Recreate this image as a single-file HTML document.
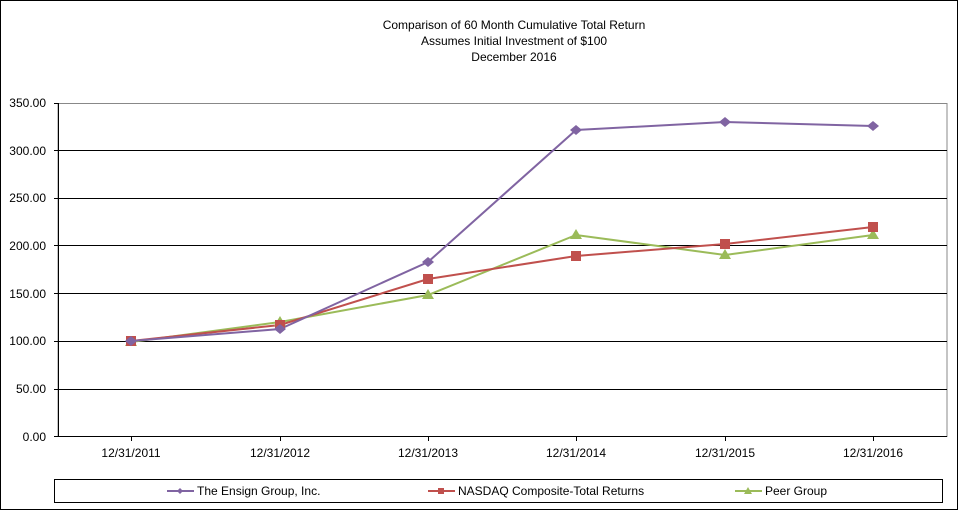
<!DOCTYPE html>
<html><head><style>
body{margin:0;background:#fff;}
svg text{font-family:"Liberation Sans",Arial,sans-serif;font-size:12px;fill:#000;}
</style></head><body>
<svg width="961" height="519" viewBox="0 0 961 519">
<rect x="0.5" y="0.5" width="957" height="509" fill="#fff" stroke="#000" stroke-width="1"/>
<text x="514" y="29" text-anchor="middle">Comparison  of 60 Month Cumulative Total Return</text>
<text x="514" y="45" text-anchor="middle">Assumes Initial Investment  of $100</text>
<text x="514" y="61" text-anchor="middle">December  2016</text>
<rect x="58" y="103.5" width="889" height="333" fill="none" stroke="#888"/>
<g stroke="#000" stroke-width="1">
<line x1="54" y1="103.5" x2="58" y2="103.5"/>
<line x1="54" y1="150.5" x2="947" y2="150.5"/>
<line x1="54" y1="198.5" x2="947" y2="198.5"/>
<line x1="54" y1="245.5" x2="947" y2="245.5"/>
<line x1="54" y1="293.5" x2="947" y2="293.5"/>
<line x1="54" y1="341.5" x2="947" y2="341.5"/>
<line x1="54" y1="389.5" x2="947" y2="389.5"/>
<line x1="54" y1="436.5" x2="947" y2="436.5"/>
<line x1="58.5" y1="103" x2="58.5" y2="437"/>
<line x1="131.5" y1="437" x2="131.5" y2="441"/>
<line x1="280.5" y1="437" x2="280.5" y2="441"/>
<line x1="428.5" y1="437" x2="428.5" y2="441"/>
<line x1="576.5" y1="437" x2="576.5" y2="441"/>
<line x1="725.5" y1="437" x2="725.5" y2="441"/>
<line x1="873.5" y1="437" x2="873.5" y2="441"/>
</g>
<g text-anchor="end">
<text x="46" y="107">350.00</text><text x="46" y="155">300.00</text><text x="46" y="202">250.00</text>
<text x="46" y="250">200.00</text><text x="46" y="298">150.00</text><text x="46" y="345">100.00</text>
<text x="46" y="393">50.00</text><text x="46" y="441">0.00</text>
</g>
<g text-anchor="middle">
<text x="131" y="457">12/31/2011</text><text x="280" y="457">12/31/2012</text><text x="428" y="457">12/31/2013</text>
<text x="576" y="457">12/31/2014</text><text x="725" y="457">12/31/2015</text><text x="873" y="457">12/31/2016</text>
</g>
<polyline fill="none" stroke="#9bbb59" stroke-width="2" points="131,342 280,322 428,295 576,235 725,255 873,235"/>
<polyline fill="none" stroke="#c0504d" stroke-width="2" points="131,341 280,325 428,279 576,256 725,244 873,227"/>
<polyline fill="none" stroke="#8064a2" stroke-width="2" points="131,341 280,329 428,262 576,130 725,122 873,126"/>
<g fill="#9bbb59">
<polygon points="131,336 137,346 125,346"/><polygon points="280,316 286,326 274,326"/><polygon points="428,289 434,299 422,299"/>
<polygon points="576,229 582,239 570,239"/><polygon points="725,249 731,259 719,259"/><polygon points="873,229 879,239 867,239"/>
</g>
<g fill="#c0504d">
<rect x="126" y="336" width="10" height="10"/><rect x="275" y="320" width="10" height="10"/><rect x="423" y="274" width="10" height="10"/>
<rect x="571" y="251" width="10" height="10"/><rect x="720" y="239" width="10" height="10"/><rect x="868" y="222" width="10" height="10"/>
</g>
<g fill="#8064a2">
<polygon points="131,336 137,341 131,346 125,341"/><polygon points="280,324 286,329 280,334 274,329"/>
<polygon points="428,257 434,262 428,267 422,262"/><polygon points="576,125 582,130 576,135 570,130"/>
<polygon points="725,117 731,122 725,127 719,122"/><polygon points="873,121 879,126 873,131 867,126"/>
</g>
<rect x="54.5" y="479.5" width="888" height="23" fill="none" stroke="#000"/>
<line x1="167" y1="491" x2="194" y2="491" stroke="#8064a2" stroke-width="2"/>
<polygon points="180,488 183,491 180,494 177,491" fill="#8064a2"/>
<text x="197" y="495">The Ensign Group, Inc.</text>
<line x1="428" y1="491" x2="455" y2="491" stroke="#c0504d" stroke-width="2"/>
<rect x="438" y="488" width="6" height="6" fill="#c0504d"/>
<text x="458" y="495">NASDAQ Composite-Total Returns</text>
<line x1="735" y1="491" x2="762" y2="491" stroke="#9bbb59" stroke-width="2"/>
<polygon points="748,487 752,494 744,494" fill="#9bbb59"/>
<text x="765" y="495">Peer Group</text>
</svg>
</body></html>
